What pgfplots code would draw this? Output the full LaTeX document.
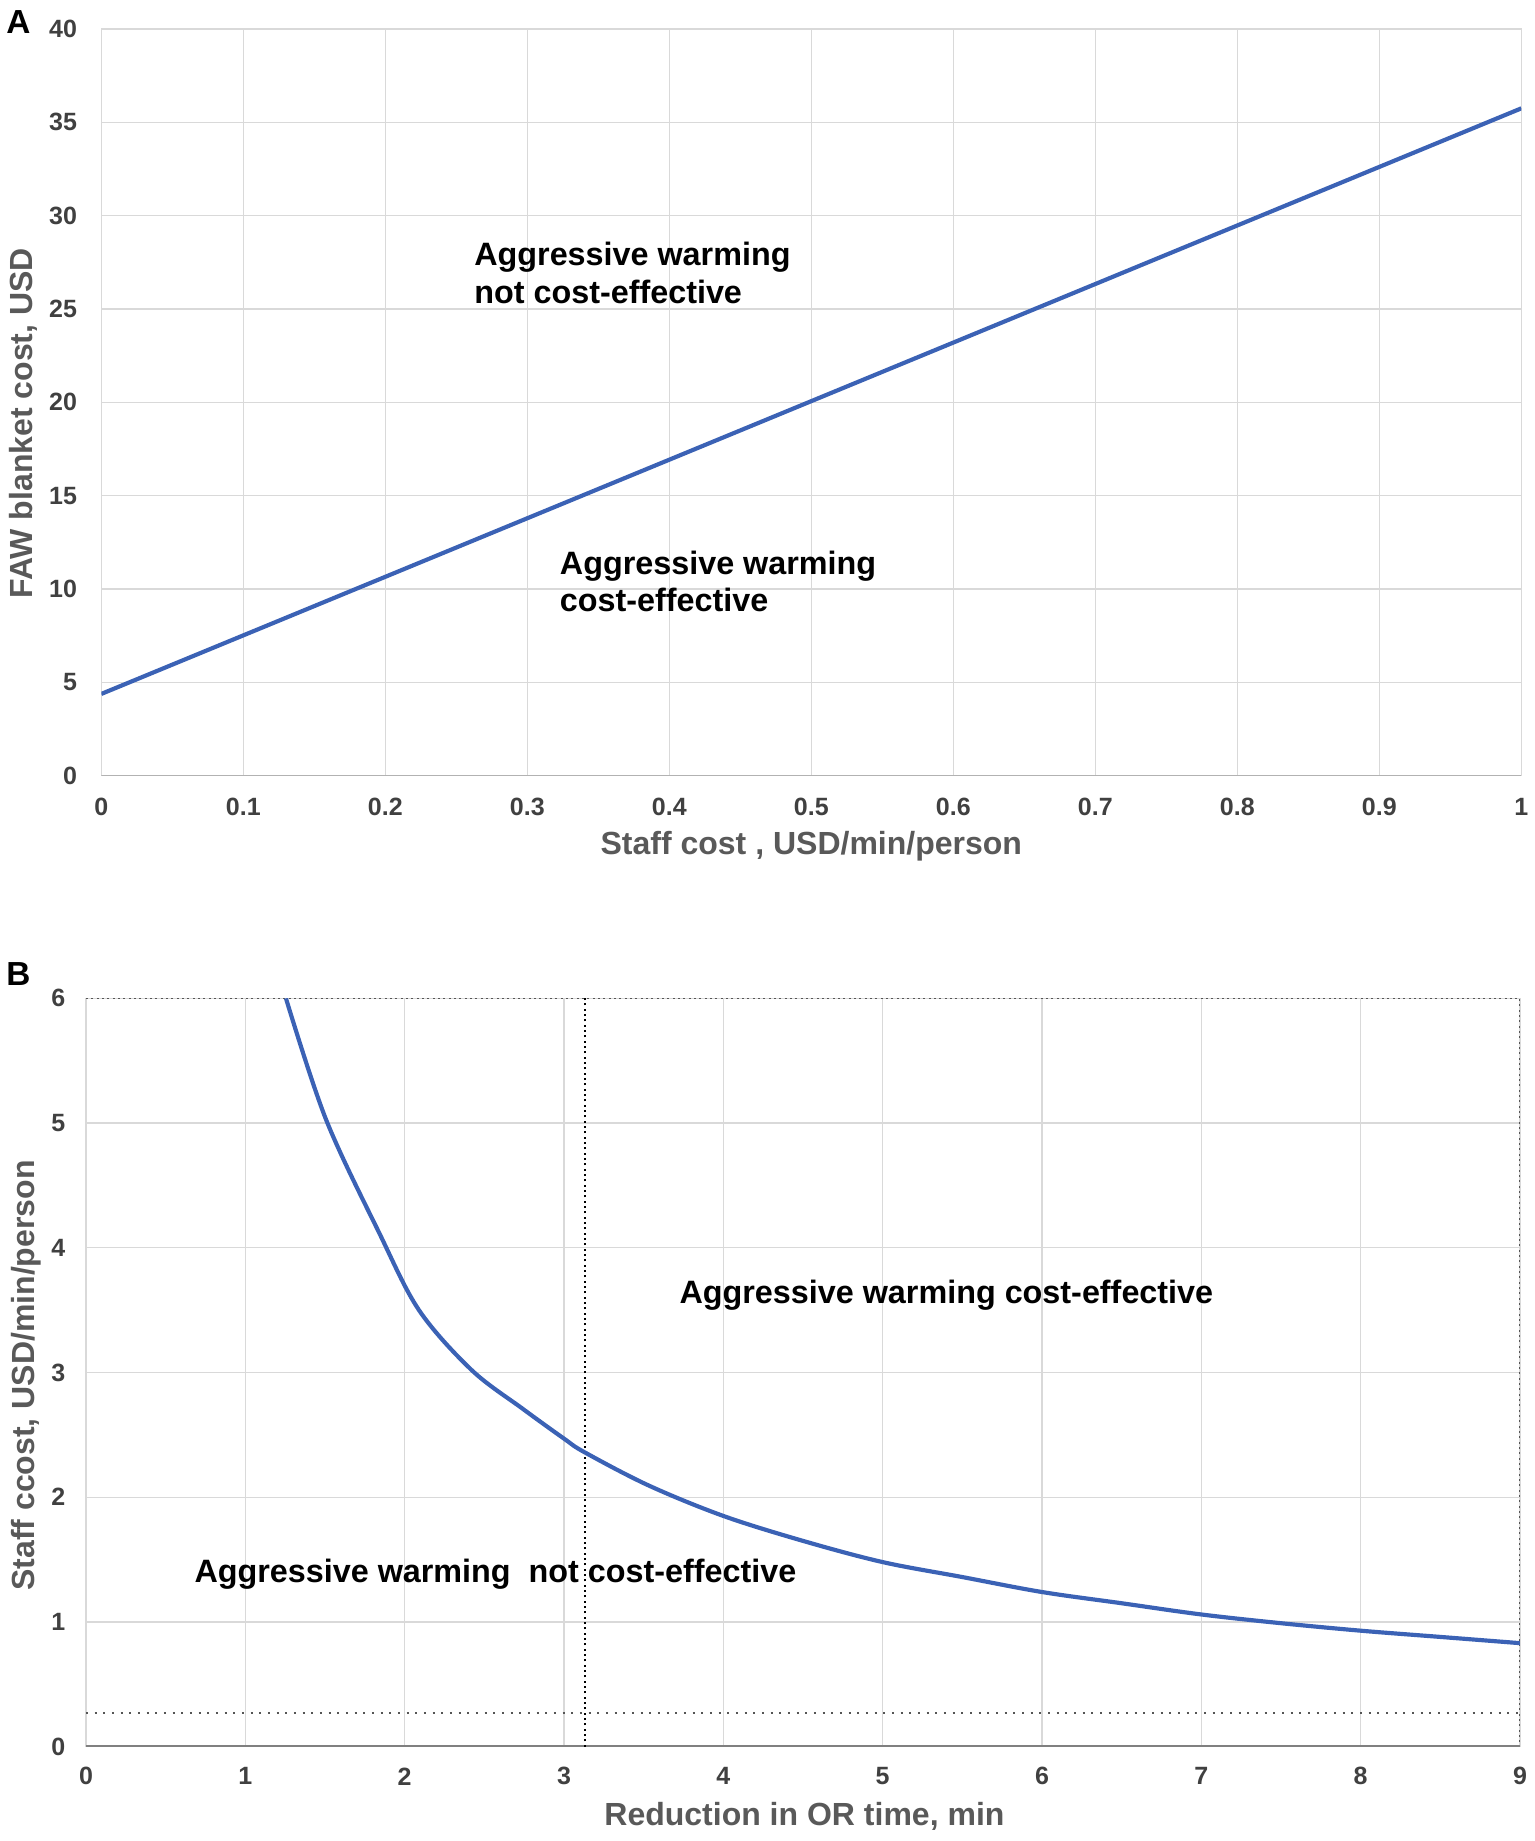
\documentclass[border=0pt]{standalone}
\usepackage{fontspec}
\setmainfont{Liberation Sans}
\usepackage{pgfplots}
\pgfplotsset{compat=1.18}
\definecolor{gridgray}{HTML}{D9D9D9}
\definecolor{ticktext}{HTML}{404040}
\definecolor{labeltext}{HTML}{595959}
\definecolor{lineblue}{HTML}{3B62B5}
\definecolor{bordergray}{HTML}{555555}
\pgfplotsset{
  common/.style={
    scale only axis,
    anchor=north west,
    /pgf/number format/assume math mode=true,
    axis line style={draw=gridgray, line width=0.4pt},
    grid=major,
    grid style={draw=gridgray, line width=0.4pt},
    major tick length=0pt,
    tick label style={font=\fontsize{7.5}{8}\selectfont\bfseries, text=ticktext, inner sep=0pt},
    label style={font=\fontsize{9.6}{11}\selectfont\bfseries, text=labeltext},
    clip=true,
  }
}
\begin{document}
\begin{tikzpicture}
\useasboundingbox (0,0) rectangle (460.5pt,-552.3pt);
\node[font=\fontsize{10}{12}\selectfont\bfseries, inner sep=0pt] at (5.5pt,-6.5pt) {A};
\node[font=\fontsize{10}{12}\selectfont\bfseries, inner sep=0pt] at (5.5pt,-292.2pt) {B};
% Panel A
\begin{axis}[common,
  at={(30.4pt,-8.7pt)}, width=426pt, height=224pt,
  xmin=0, xmax=1, ymin=0, ymax=40,
  xtick={0,0.1,0.2,0.3,0.4,0.5,0.6,0.7,0.8,0.9,1},
  ytick={0,5,10,15,20,25,30,35,40},
  xticklabel style={anchor=center, yshift=-9.3pt},
  yticklabel style={anchor=east, xshift=-7.1pt},
  xlabel={Staff cost , USD/min/person},
  ylabel={FAW blanket cost, USD},
  xlabel style={at={(axis description cs:0.5,-0.0946)}, anchor=center},
  ylabel style={at={(axis description cs:-0.0548,0.472)}, anchor=center, rotate=0},
]
\addplot[draw=gray!60, line width=0.6pt] coordinates {(0,0) (1,0)};
\addplot[draw=lineblue, line width=1.25pt] coordinates {(0,4.38) (1,35.75)};
\node[align=left, anchor=west, inner sep=0pt, font=\fontsize{9.7}{11.3}\selectfont\bfseries] at (axis cs:0.2622,26.95) {Aggressive warming\\not cost-effective};
\node[align=left, anchor=west, inner sep=0pt, font=\fontsize{9.7}{11.3}\selectfont\bfseries] at (axis cs:0.3225,10.4) {Aggressive warming\\cost-effective};
\end{axis}
% Panel B
\begin{axis}[common,
  at={(25.8pt,-299.5pt)}, width=430.2pt, height=224.5pt,
  xmin=0, xmax=9, ymin=0, ymax=6,
  xtick={0,1,2,3,4,5,6,7,8,9},
  ytick={0,1,2,3,4,5,6},
  xticklabel style={anchor=center, yshift=-8.9pt},
  yticklabel style={anchor=east, xshift=-6pt},
  xlabel={Reduction in OR time, min},
  ylabel={Staff ccost, USD/min/person},
  xlabel style={at={(axis description cs:0.501,-0.0927)}, anchor=center},
  ylabel style={at={(axis description cs:-0.0419,0.496)}, anchor=center, rotate=0},
]
\addplot[draw=bordergray, line width=0.6pt, densely dotted] coordinates {(0,6) (9,6) (9,0)};
\addplot[draw=gray, line width=0.8pt] coordinates {(0,0) (9,0)};
\addplot[draw=bordergray, line width=0.6pt, dotted] coordinates {(0,0.27) (9,0.27)};
\addplot[draw=black, line width=0.6pt, densely dotted] coordinates {(3.13,0) (3.13,6)};
\addplot[draw=lineblue, line width=1.25pt, smooth, tension=0.55] coordinates {
(1.255,6.00) (1.506,5.03) (1.84,4.12) (2.09,3.50) (2.42,3.02) (2.74,2.71)
(3.00,2.47) (3.13,2.36) (3.53,2.095) (4.00,1.85) (4.50,1.65)
(5.00,1.48) (5.50,1.36) (6.00,1.24) (6.50,1.15) (7.00,1.06)
(7.50,0.99) (8.00,0.93) (8.50,0.88) (9.00,0.83)};
\node[anchor=center, inner sep=0pt, font=\fontsize{9.7}{11.3}\selectfont\bfseries] at (axis cs:5.40,3.62) {Aggressive warming cost-effective};
\node[anchor=center, inner sep=0pt, font=\fontsize{9.7}{11.3}\selectfont\bfseries] at (axis cs:2.57,1.38) {Aggressive warming~ not cost-effective};
\end{axis}
\end{tikzpicture}
\end{document}
